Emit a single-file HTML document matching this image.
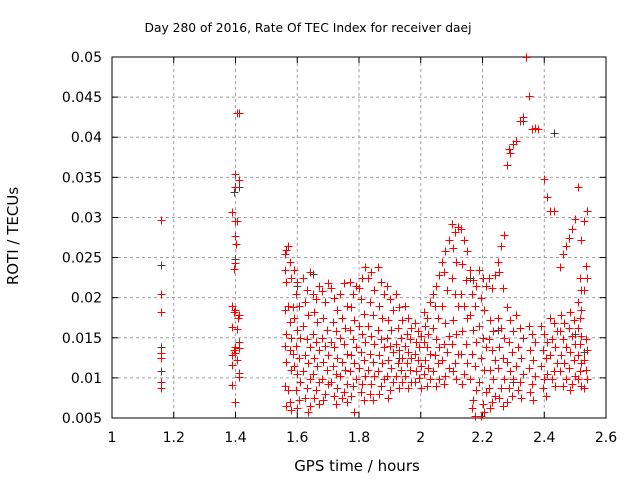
<!DOCTYPE html>
<html><head><meta charset="utf-8"><style>
html,body{margin:0;padding:0;background:#fff;}
svg text{font-family:"DejaVu Sans","Liberation Sans",sans-serif;}
</style></head><body>
<svg id="chart" width="640" height="480" viewBox="0 0 640 480" xmlns="http://www.w3.org/2000/svg">
<rect width="640" height="480" fill="#fff"/>
<text x="308" y="32" font-size="12.3" text-anchor="middle" fill="#000">Day 280 of 2016, Rate Of TEC Index for receiver daej</text>
<g id="grid"></g>
<g id="axes"></g>
<g id="marks"></g>
<text x="357" y="471" font-size="15" text-anchor="middle">GPS time / hours</text>
<text x="18" y="236" font-size="15" text-anchor="middle" transform="rotate(-90 18 236)">ROTI / TECUs</text>
</svg>
<script>
const xTicks=[1,1.2,1.4,1.6,1.8,2,2.2,2.4,2.6];
const xTickLabels=["1","1.2","1.4","1.6","1.8","2","2.2","2.4","2.6"];
const yTicks=[0.005,0.01,0.015,0.02,0.025,0.03,0.035,0.04,0.045,0.05];
const yTickLabels=["0.005","0.01","0.015","0.02","0.025","0.03","0.035","0.04","0.045","0.05"];
const grayPoints=[[1.16,0.0241],[1.16,0.0139],[1.16,0.0109],[1.395,0.0332],[1.398,0.0248],[1.41,0.0338],[1.6,0.0215],[1.65,0.023],[2.16,0.0225],[2.25,0.016],[2.33,0.042],[2.43,0.0405],[2.5,0.0155],[2.53,0.0132],[2.3,0.0095],[1.93,0.0125]];
const redPoints=[
[1.16,0.0297],[1.16,0.0205],[1.16,0.0182],[1.16,0.0131],[1.16,0.0125],[1.16,0.0095],[1.16,0.0087],
[1.405,0.043],[1.41,0.043],[1.397,0.0354],[1.41,0.0347],[1.4,0.0338],[1.39,0.0307],[1.4,0.0296],[1.405,0.0296],[1.398,0.0277],[1.403,0.0267],[1.397,0.0243],[1.395,0.0236],[1.39,0.019],[1.395,0.0182],[1.4,0.0185],[1.41,0.0178],[1.408,0.0175],[1.39,0.0163],[1.405,0.0161],[1.41,0.0145],[1.395,0.0135],[1.4,0.0138],[1.41,0.0137],[1.39,0.0129],[1.4,0.0131],[1.405,0.0122],[1.39,0.0116],[1.41,0.0106],[1.41,0.0101],[1.39,0.0091],[1.397,0.007],[1.4,0.007],
[1.56,0.0255],[1.565,0.026],[1.57,0.0265],[1.56,0.0235],[1.575,0.0245],[1.565,0.022],[1.58,0.0225],[1.57,0.019],[1.585,0.0188],[1.56,0.0185],[1.575,0.017],[1.565,0.0155],[1.58,0.015],[1.56,0.014],[1.575,0.0135],[1.585,0.013],[1.565,0.012],[1.58,0.011],[1.56,0.009],[1.57,0.0085],[1.575,0.007],[1.565,0.0065],[1.58,0.006],
[1.59,0.0235],[1.6,0.022],[1.595,0.0205],[1.605,0.019],[1.59,0.0175],[1.6,0.016],[1.61,0.015],[1.595,0.014],[1.605,0.0125],[1.59,0.0115],[1.6,0.0105],[1.61,0.0095],[1.595,0.0085],[1.605,0.0072],[1.6,0.0062],
[1.62,0.0225],[1.63,0.021],[1.64,0.0232],[1.625,0.0195],[1.635,0.0178],[1.62,0.0165],[1.63,0.0148],[1.64,0.0138],[1.625,0.0128],[1.635,0.0118],[1.62,0.0108],[1.64,0.0098],[1.63,0.0088],[1.625,0.0075],[1.64,0.0065],[1.635,0.0058],
[1.65,0.0205],[1.66,0.0198],[1.67,0.0215],[1.655,0.0182],[1.665,0.017],[1.65,0.0155],[1.66,0.0145],[1.67,0.0135],[1.655,0.0125],[1.665,0.0115],[1.65,0.0105],[1.67,0.0095],[1.66,0.0085],[1.655,0.0075],[1.67,0.0068],
[1.68,0.0208],[1.69,0.0195],[1.70,0.0218],[1.685,0.0175],[1.695,0.016],[1.68,0.015],[1.69,0.014],[1.70,0.0128],[1.685,0.012],[1.695,0.011],[1.68,0.0098],[1.70,0.0092],[1.69,0.008],[1.685,0.0072],
[1.71,0.0212],[1.72,0.02],[1.73,0.0185],[1.715,0.017],[1.725,0.0158],[1.71,0.0145],[1.72,0.0138],[1.73,0.0125],[1.715,0.0115],[1.725,0.0105],[1.71,0.0095],[1.73,0.0088],[1.72,0.0078],[1.725,0.0068],
[1.74,0.0205],[1.75,0.0218],[1.76,0.019],[1.745,0.0175],[1.755,0.0162],[1.74,0.015],[1.75,0.0142],[1.76,0.013],[1.745,0.012],[1.755,0.011],[1.74,0.0102],[1.76,0.0092],[1.75,0.0082],[1.745,0.0075],[1.76,0.007],
[1.77,0.022],[1.78,0.0205],[1.79,0.0215],[1.775,0.0188],[1.785,0.0172],[1.77,0.016],[1.78,0.0148],[1.79,0.0138],[1.775,0.0128],[1.785,0.0118],[1.77,0.0108],[1.79,0.0098],[1.78,0.009],[1.775,0.0078],[1.785,0.0058],
[1.80,0.0212],[1.81,0.0225],[1.82,0.0238],[1.805,0.0198],[1.815,0.018],[1.80,0.0165],[1.81,0.0155],[1.82,0.0145],[1.805,0.0132],[1.815,0.0122],[1.80,0.0112],[1.82,0.0102],[1.81,0.0092],[1.805,0.0082],[1.815,0.0072],
[1.83,0.0225],[1.84,0.0232],[1.85,0.021],[1.835,0.0195],[1.845,0.0178],[1.83,0.0165],[1.84,0.0152],[1.85,0.0142],[1.835,0.013],[1.845,0.012],[1.83,0.011],[1.85,0.0102],[1.84,0.0092],[1.835,0.008],[1.845,0.0072],
[1.86,0.0238],[1.87,0.022],[1.88,0.0205],[1.865,0.019],[1.875,0.0175],[1.86,0.016],[1.87,0.0148],[1.88,0.0138],[1.865,0.0128],[1.875,0.0118],[1.86,0.0108],[1.88,0.0098],[1.87,0.009],[1.865,0.008],
[1.89,0.0215],[1.90,0.0198],[1.91,0.0185],[1.895,0.0172],[1.905,0.016],[1.89,0.015],[1.90,0.014],[1.91,0.0132],[1.895,0.0122],[1.905,0.0112],[1.89,0.0102],[1.91,0.0095],[1.90,0.0085],[1.895,0.0075],
[1.92,0.0205],[1.93,0.0188],[1.94,0.0172],[1.925,0.0162],[1.935,0.015],[1.92,0.0142],[1.93,0.0135],[1.94,0.0125],[1.925,0.0118],[1.935,0.011],[1.92,0.0102],[1.94,0.0095],[1.93,0.0088],
[1.95,0.019],[1.96,0.0175],[1.97,0.0162],[1.955,0.0155],[1.965,0.0148],[1.95,0.014],[1.96,0.0132],[1.97,0.0125],[1.955,0.0118],[1.965,0.011],[1.95,0.0102],[1.97,0.0095],[1.96,0.0088],
[1.98,0.0168],[1.99,0.0158],[2.00,0.0152],[1.985,0.0145],[1.995,0.0138],[1.98,0.013],[1.99,0.0122],[2.00,0.0115],[1.985,0.0108],[1.995,0.01],[1.98,0.0095],[2.00,0.0088],
[2.01,0.0182],[2.02,0.0175],[2.03,0.0195],[2.015,0.0165],[2.025,0.0155],[2.01,0.0145],[2.02,0.0138],[2.03,0.013],[2.015,0.0122],[2.025,0.0112],[2.01,0.0105],[2.03,0.0098],[2.02,0.009],
[2.04,0.0205],[2.05,0.0215],[2.06,0.0228],[2.045,0.019],[2.055,0.0175],[2.04,0.0162],[2.05,0.0148],[2.06,0.0138],[2.045,0.0128],[2.055,0.0118],[2.04,0.0108],[2.06,0.0098],[2.05,0.009],
[2.07,0.0245],[2.08,0.0258],[2.09,0.0272],[2.075,0.0232],[2.085,0.021],[2.07,0.019],[2.08,0.0168],[2.09,0.0152],[2.075,0.0142],[2.085,0.0132],[2.07,0.0122],[2.09,0.0112],[2.08,0.0102],[2.075,0.0092],
[2.10,0.0292],[2.11,0.0282],[2.12,0.0288],[2.105,0.0262],[2.115,0.0245],[2.10,0.0225],[2.11,0.0205],[2.12,0.019],[2.105,0.0172],[2.115,0.0155],[2.10,0.0142],[2.12,0.013],[2.11,0.0118],[2.105,0.0108],[2.115,0.0098],
[2.13,0.0285],[2.14,0.0272],[2.15,0.0258],[2.135,0.0242],[2.145,0.0222],[2.13,0.0205],[2.14,0.019],[2.15,0.0175],[2.135,0.0158],[2.145,0.0142],[2.13,0.013],[2.15,0.0118],[2.14,0.0105],[2.135,0.0092],
[2.16,0.0235],[2.17,0.0222],[2.18,0.0215],[2.165,0.0205],[2.175,0.019],[2.16,0.0178],[2.17,0.016],[2.18,0.0145],[2.165,0.013],[2.175,0.0115],[2.16,0.0098],[2.18,0.0085],[2.17,0.0072],[2.165,0.0062],[2.175,0.0052],
[2.19,0.0235],[2.20,0.0225],[2.21,0.0215],[2.195,0.02],[2.205,0.0185],[2.19,0.0165],[2.20,0.015],[2.21,0.0138],[2.195,0.0125],[2.205,0.011],[2.19,0.0095],[2.21,0.0082],[2.20,0.0068],[2.195,0.0052],[2.205,0.0058],
[2.22,0.0225],[2.23,0.0212],[2.24,0.0228],[2.225,0.0172],[2.235,0.0158],[2.22,0.0148],[2.23,0.0135],[2.24,0.0122],[2.225,0.011],[2.235,0.0098],[2.22,0.0088],[2.24,0.0078],[2.23,0.007],[2.225,0.0062],
[2.25,0.0245],[2.26,0.0265],[2.27,0.0278],[2.255,0.0232],[2.265,0.0212],[2.25,0.0175],[2.26,0.0162],[2.27,0.015],[2.255,0.0138],[2.265,0.0125],[2.25,0.0112],[2.27,0.0098],[2.26,0.0088],[2.255,0.0075],[2.265,0.0065],
[2.28,0.0365],[2.29,0.038],[2.30,0.0392],[2.285,0.0385],[2.28,0.0188],[2.29,0.0172],[2.30,0.0158],[2.285,0.0145],[2.295,0.0132],[2.28,0.012],[2.29,0.0108],[2.30,0.0098],[2.285,0.0088],[2.295,0.0078],[2.28,0.007],
[2.31,0.0395],[2.32,0.042],[2.34,0.05],[2.35,0.0452],[2.33,0.0425],[2.31,0.0178],[2.32,0.0162],[2.33,0.015],[2.315,0.0138],[2.325,0.0125],[2.31,0.0115],[2.33,0.0105],[2.32,0.0095],[2.315,0.0085],[2.325,0.0075],
[2.36,0.041],[2.37,0.0412],[2.38,0.041],[2.35,0.0165],[2.36,0.0155],[2.37,0.0145],[2.355,0.0135],[2.365,0.0122],[2.35,0.0112],[2.37,0.0102],[2.36,0.0092],[2.355,0.0082],[2.365,0.0072],
[2.40,0.0348],[2.41,0.0325],[2.42,0.0308],[2.43,0.0308],[2.39,0.0165],[2.40,0.0155],[2.41,0.0145],[2.395,0.0135],[2.405,0.0125],[2.39,0.0115],[2.41,0.0105],[2.40,0.0098],[2.395,0.0088],[2.405,0.0078],
[2.42,0.0175],[2.43,0.0168],[2.44,0.0158],[2.425,0.0148],[2.435,0.0138],[2.42,0.0128],[2.44,0.0118],[2.43,0.0108],[2.425,0.0098],[2.435,0.009],
[2.45,0.0238],[2.46,0.0255],[2.47,0.0265],[2.455,0.0178],[2.465,0.0168],[2.45,0.0158],[2.46,0.0148],[2.47,0.0138],[2.455,0.0128],[2.465,0.0118],[2.45,0.0108],[2.47,0.0098],[2.46,0.009],
[2.48,0.0275],[2.49,0.0285],[2.50,0.0298],[2.485,0.0182],[2.495,0.0172],[2.48,0.0162],[2.49,0.0152],[2.50,0.0142],[2.485,0.0132],[2.495,0.0122],[2.48,0.0112],[2.50,0.0102],[2.49,0.0092],[2.485,0.0085],
[2.51,0.0338],[2.52,0.0272],[2.515,0.0225],[2.52,0.021],[2.51,0.0195],[2.52,0.0185],[2.515,0.0175],[2.51,0.0162],[2.52,0.0152],[2.515,0.0142],[2.51,0.0128],[2.52,0.0118],[2.515,0.0108],[2.51,0.0098],[2.52,0.009],
[2.53,0.0295],[2.54,0.0308],[2.535,0.024],[2.54,0.0225],[2.53,0.021],[2.535,0.0148],[2.54,0.0135],[2.53,0.0122],[2.535,0.011],[2.54,0.0098],[2.53,0.0088]
];
const NS="http://www.w3.org/2000/svg";
const L=112,R=606,T=57,B=418;
function xs(v){return L+(v-1)/(2.6-1)*(R-L);}
function ys(v){return B-(v-0.005)/(0.05-0.005)*(B-T);}
const grid=document.getElementById('grid'),axes=document.getElementById('axes'),marks=document.getElementById('marks');
function mk(tag,attrs,parent){const e=document.createElementNS(NS,tag);for(const k in attrs)e.setAttribute(k,attrs[k]);parent.appendChild(e);return e;}
xTicks.forEach((t,i)=>{const x=xs(t);
 if(i>0&&i<xTicks.length-1){const g=mk('line',{x1:x,x2:x,y1:T,y2:B,stroke:'#a0a0a0','stroke-dasharray':'3,3','stroke-width':1},grid);
 
 }
 mk('line',{x1:x,x2:x,y1:B,y2:B-6,stroke:'#000'},axes);
 mk('line',{x1:x,x2:x,y1:T,y2:T+6,stroke:'#000'},axes);
 const tx=mk('text',{x:x,y:442,'font-size':14,'text-anchor':'middle'},axes);tx.textContent=xTickLabels[i];
 
 
});
yTicks.forEach((t,i)=>{const y=ys(t);
 if(i>0&&i<yTicks.length-1){const g=mk('line',{x1:L,x2:R,y1:y,y2:y,stroke:'#a0a0a0','stroke-dasharray':'3,3','stroke-width':1},grid);
 
 }
 mk('line',{x1:L,x2:L+6,y1:y,y2:y,stroke:'#000'},axes);
 mk('line',{x1:R,x2:R-6,y1:y,y2:y,stroke:'#000'},axes);
 const tx=mk('text',{x:102,y:y+5,'font-size':14,'text-anchor':'end'},axes);tx.textContent=yTickLabels[i];
 
 
});
mk('rect',{x:L,y:T,width:R-L,height:B-T,fill:'none',stroke:'#000','stroke-width':1},axes);
function plus(p,color){const x=Math.round(xs(p[0]))+0.5,y=Math.round(ys(p[1]))+0.5;
 const e=mk('path',{d:`M${x-4} ${y}H${x+4}M${x} ${y-4}V${y+4}`,stroke:color,'stroke-width':1,fill:'none'},marks);
 return e;}
grayPoints.forEach(p=>{const e=plus(p,'#404040');
 
 });
redPoints.forEach(p=>{const e=plus(p,'#ff0000');
 
 });
</script>
</body></html>
